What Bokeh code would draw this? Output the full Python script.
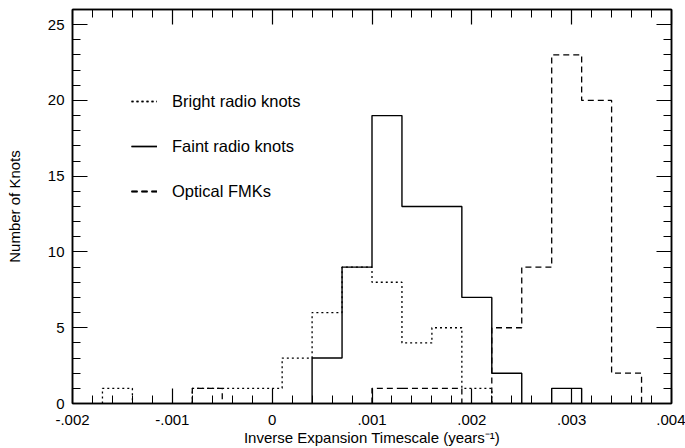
from bokeh.plotting import figure
from bokeh.models import (LinearAxis, FixedTicker, Legend, LegendItem)
from bokeh.embed import file_html
from bokeh.resources import INLINE
import numpy as np

# ---- data ----
bin_edges = [-0.0017, -0.0014, -0.0011, -0.0008, -0.0005, -0.0002, 0.0001,
             0.0004, 0.0007, 0.0010, 0.0013, 0.0016, 0.0019, 0.0022,
             0.0025, 0.0028, 0.0031, 0.0034, 0.0037]
bright_counts = [1, 0, 0, 1, 1, 1, 3, 6, 9, 8, 4, 5, 1, 0, 0, 0, 0, 0]
faint_counts = [0, 0, 0, 0, 0, 0, 0, 3, 9, 19, 13, 13, 7, 2, 0, 1, 0, 0]
optical_counts = [0, 0, 0, 1, 0, 0, 0, 0, 0, 1, 1, 1, 0, 5, 9, 23, 20, 2]
series_names = ["Bright radio knots", "Faint radio knots", "Optical FMKs"]
x_ticks = [-0.002, -0.001, 0.0, 0.001, 0.002, 0.003, 0.004]
x_tick_labels = ["-.002", "-.001", "0", ".001", ".002", ".003", ".004"]
y_ticks = [0, 5, 10, 15, 20, 25]

FONT = "Liberation Sans"


def outline(edges, counts):
    """Step outline of each run of non-empty bins."""
    xs_all, ys_all = [], []
    xs, ys = [], []
    for i, c in enumerate(counts):
        if c > 0:
            if not xs:
                xs, ys = [edges[i]], [0]
            xs += [edges[i], edges[i + 1]]
            ys += [c, c]
        elif xs:
            xs.append(edges[i]); ys.append(0)
            xs_all.append(xs); ys_all.append(ys)
            xs, ys = [], []
    if xs:
        xs.append(edges[len(counts)]); ys.append(0)
        xs_all.append(xs); ys_all.append(ys)
    return xs_all, ys_all


p = figure(width=685, height=448, x_range=(-0.002, 0.004), y_range=(0, 26),
           output_backend="svg", toolbar_location=None,
           min_border_left=72, min_border_right=14, min_border_top=9,
           min_border_bottom=45)
p.grid.visible = False
p.outline_line_color = "black"
p.outline_line_width = 1.5
p.background_fill_color = "white"
p.border_fill_color = "white"

styles = [("2 3", 1.3), ("solid", 1.4), ("6 4", 1.3)]
series_renderers = []
for counts, (dash, lw) in zip([bright_counts, faint_counts, optical_counts], styles):
    xs_runs, ys_runs = outline(bin_edges, counts)
    rs = []
    for xs, ys in zip(xs_runs, ys_runs):
        r = p.line(xs, ys, line_color="black", line_width=lw, line_dash=dash)
        rs.append(r)
    series_renderers.append(rs)

xminor = [float(v) for v in np.round(np.arange(-0.002, 0.00401, 0.0002), 6)]
yminor = list(range(0, 27))
xt = FixedTicker(ticks=x_ticks, minor_ticks=xminor)
yt = FixedTicker(ticks=y_ticks, minor_ticks=yminor)


def style_axis(ax, labels=True):
    ax.axis_line_color = "black"
    ax.axis_line_width = 1.5
    ax.major_tick_line_color = "black"
    ax.minor_tick_line_color = "black"
    ax.major_tick_line_width = 1.2
    ax.minor_tick_line_width = 1.0
    ax.major_tick_in = 15
    ax.major_tick_out = 0
    ax.minor_tick_in = 8
    ax.minor_tick_out = 0
    if labels:
        ax.major_label_text_font = FONT
        ax.major_label_text_font_size = "15px"
        ax.major_label_text_color = "black"
        ax.axis_label_text_font = FONT
        ax.axis_label_text_font_size = "15px"
        ax.axis_label_text_font_style = "normal"
        ax.axis_label_text_color = "black"
    else:
        ax.major_label_text_alpha = 0
        ax.major_label_text_font_size = "1px"
        ax.major_label_standoff = 0


xa = p.xaxis[0]
xa.ticker = xt
xa.major_label_overrides = {t: l for t, l in zip(x_ticks, x_tick_labels)}
xa.axis_label = "Inverse Expansion Timescale (years\u207b\u00b9)"
style_axis(xa)
xa.major_label_standoff = 11
xa.axis_label_standoff = 1

ya = p.yaxis[0]
ya.ticker = yt
ya.axis_label = "Number of Knots"
style_axis(ya)
ya.major_label_standoff = 8
ya.axis_label_standoff = 22

top = LinearAxis(ticker=xt)
style_axis(top, labels=False)
p.add_layout(top, "above")
right = LinearAxis(ticker=yt)
style_axis(right, labels=False)
p.add_layout(right, "right")

legend = Legend(items=[LegendItem(label=n, renderers=rs) for n, rs in zip(series_names, series_renderers)],
                location=(59, 202), orientation="vertical",
                glyph_width=26, glyph_height=20, label_height=20, spacing=25,
                label_standoff=15, padding=0, margin=0,
                border_line_color=None, background_fill_alpha=0,
                label_text_font=FONT, label_text_font_size="16.5px",
                label_text_color="black")
p.add_layout(legend, "center")

open("out.html", "w").write(file_html(p, INLINE))
